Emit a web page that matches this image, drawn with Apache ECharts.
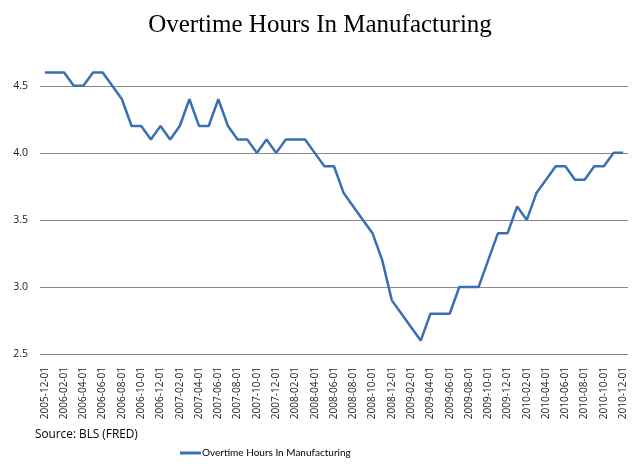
<!DOCTYPE html>
<html><head><meta charset="utf-8">
<script src="https://cdn.jsdelivr.net/npm/echarts@6/dist/echarts.min.js"></script>
<style>html,body{margin:0;padding:0;background:#fff}#c{width:640px;height:464px}</style>
</head><body><div id="c"></div>
<script>
const title = "Overtime Hours In Manufacturing";
const seriesName = "Overtime Hours In Manufacturing";
const source = "Source: BLS (FRED)";
const startYear = 2005, startMonth = 12, nMonths = 61;
const categories = [];
for (let i = 0; i < nMonths; i++) {
  const m = (startMonth - 1 + i) % 12 + 1;
  const y = startYear + Math.floor((startMonth - 1 + i) / 12);
  categories.push(y + "-" + String(m).padStart(2, "0") + "-01");
}
const values = [
  4.6,4.6,4.6,4.5,4.5,4.6,4.6,4.5,4.4,4.2,
  4.2,4.1,4.2,4.1,4.2,4.4,4.2,4.2,4.4,4.2,
  4.1,4.1,4.0,4.1,4.0,4.1,4.1,4.1,4.0,3.9,
  3.9,3.7,3.6,3.5,3.4,3.2,2.9,2.8,2.7,2.6,
  2.8,2.8,2.8,3.0,3.0,3.0,3.2,3.4,3.4,3.6,
  3.5,3.7,3.8,3.9,3.9,3.8,3.8,3.9,3.9,4.0,
  4.0
];
const yTicks = [2.5, 3.0, 3.5, 4.0, 4.5];
const yMin = 2.5, yMax = 4.7;

const chart = echarts.init(document.getElementById('c'), null, {renderer: 'canvas'});
chart.setOption({
  animation: false,
  backgroundColor: '#ffffff',
  title: {
    text: title, left: 'center', top: 8,
    textStyle: {fontFamily: 'Liberation Serif', fontSize: 25, fontWeight: 'normal', color: '#000'}
  },
  graphic: [{
    type: 'text', left: 35, top: 429,
    style: {text: source, fontFamily: 'Open Sans', fontSize: 11.8, fill: '#000'}
  }],
  legend: {
    left: 175, top: 443, itemWidth: 21, itemHeight: 3, itemGap: 4,
    icon: 'rect',
    textStyle: {fontFamily: 'Lato', fontSize: 10, color: '#000', padding: [0,0,0,-4]},
    data: [seriesName]
  },
  grid: {left: 40, right: 12, top: 59, bottom: 110, containLabel: false},
  xAxis: {
    type: 'category', data: categories, boundaryGap: true,
    axisLine: {show: false}, axisTick: {show: false},
    axisLabel: {interval: 1, rotate: 90, fontFamily: 'Open Sans', fontSize: 10, color: '#222', margin: 13}
  },
  yAxis: {
    type: 'value', min: yMin, max: yMax, interval: 0.5,
    axisLine: {show: false}, axisTick: {show: false},
    splitLine: {show: false},
    axisLabel: {
      fontFamily: 'Open Sans', fontSize: 10.5, color: '#222', margin: 12,
      formatter: v => yTicks.indexOf(Math.round(v*10)/10) >= 0 ? v.toFixed(1) : ''
    }
  },
  series: [{
    name: seriesName, type: 'line', data: values, symbol: 'none',
    lineStyle: {color: '#3a70b3', width: 2.5}, itemStyle: {color: '#3a70b3'},
    z: 3,
    markLine: {
      silent: true, symbol: 'none', label: {show: false},
      lineStyle: {color: '#8a8a8a', width: 1, type: 'solid'},
      data: yTicks.map(t => ({yAxis: t})),
      z: 1
    }
  }]
});
</script></body></html>
